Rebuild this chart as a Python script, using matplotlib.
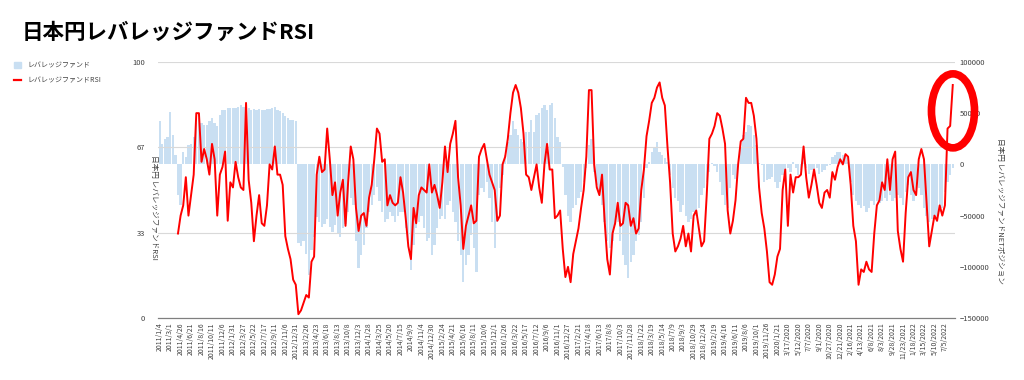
import matplotlib
matplotlib.use("Agg")
import matplotlib.pyplot as plt
import numpy as np
from matplotlib.patches import Patch, Ellipse
from matplotlib.lines import Line2D

plt.rcParams['font.family'] = ['Noto Sans CJK JP', 'DejaVu Sans']

title = '日本円レバレッジファンドRSI'
bar_name = 'レバレッジファンド'
line_name = 'レバレッジファンドRSI'
left_label = '日本円 レバレッジファンドRSI'
right_label = '日本円 レバレッジファンドNETポジション'

# 週次データ（8週ごとに目盛ラベル）
tick_labels = [
    '2011/1/4', '2011/3/1', '2011/4/26', '2011/6/21', '2011/8/16', '2011/10/11', '2011/12/6',
    '2012/1/31', '2012/3/27', '2012/5/22', '2012/7/17', '2012/9/11', '2012/11/6', '2012/12/31',
    '2013/2/26', '2013/4/23', '2013/6/18', '2013/8/13', '2013/10/8', '2013/12/3',
    '2014/1/28', '2014/3/25', '2014/5/20', '2014/7/15', '2014/9/9', '2014/11/4', '2014/12/30',
    '2015/2/24', '2015/4/21', '2015/6/16', '2015/8/11', '2015/10/6', '2015/12/1',
    '2016/1/26', '2016/3/22', '2016/5/17', '2016/7/12', '2016/9/6', '2016/11/1', '2016/12/27',
    '2017/2/21', '2017/4/18', '2017/6/13', '2017/8/8', '2017/10/3', '2017/11/28',
    '2018/1/22', '2018/3/19', '2018/5/14', '2018/7/9', '2018/9/3', '2018/10/29', '2018/12/24',
    '2019/2/19', '2019/4/16', '2019/6/11', '2019/8/6', '2019/10/1', '2019/11/26',
    '2020/1/21', '3/17/2020', '5/12/2020', '7/7/2020', '9/1/2020', '10/27/2020', '12/21/2020',
    '2/16/2021', '4/13/2021', '6/8/2021', '8/3/2021', '9/28/2021', '11/23/2021',
    '1/18/2022', '3/15/2022', '5/10/2022', '7/5/2022',
]

# NETポジション（千枚単位、2週ごと、週0から）
net_k = [
    42, 20, 25, 27, 51, 29, 9, -30,
    -40, 12, 7, 19, 20, 27, 40, 45,
    40, 38, 38, 42, 45, 40, 37, 48,
    53, 53, 55, 55, 55, 55, 56, 58,
    56, 55, 55, 53, 54, 53, 54, 53,
    53, 54, 54, 55, 56, 53, 52, 50,
    47, 45, 43, 43, 42, -77, -80, -75,
    -87, -108, -84, -71, -51, -56, -61, -58,
    -53, -61, -66, -59, -67, -71, -62, -58,
    -46, -33, -40, -75, -101, -88, -79, -62,
    -46, -40, -30, -22, -36, -46, -56, -53,
    -46, -50, -56, -50, -46, -46, -62, -75,
    -103, -79, -62, -56, -50, -62, -75, -72,
    -88, -79, -62, -53, -50, -53, -40, -36,
    -46, -56, -75, -88, -115, -98, -88, -69,
    -82, -105, -30, -23, -27, -17, -33, -56,
    -82, -56, -23, -10, 9, 22, 29, 42,
    35, 29, 25, 22, 32, 32, 43, 32,
    48, 50, 55, 58, 53, 58, 60, 45,
    27, 22, -3, -30, -50, -56, -43, -40,
    -33, -27, -17, -4, 19, 25, -7, -20,
    -27, -40, -56, -75, -82, -75, -59, -56,
    -75, -88, -98, -111, -95, -88, -75, -69,
    -56, -33, -4, 2.5, 12, 16, 22, 12,
    9, 6, 2.5, -10, -23, -33, -36, -46,
    -40, -50, -56, -53, -46, -50, -43, -30,
    -23, -17, -7, 1, -2, -7, -17, -30,
    -40, -43, -23, -10, -14, -1, 16, 29,
    32, 38, 37, 29, 19, 1, -1, -17,
    -15, -14, -12, -17, -23, -17, -10, -7,
    -4, -7, 2.5, -4, -10, -5.5, 6, -4,
    -9, -5.5, -7, -4, -9, -7, -5.5, -2,
    -1, 7.5, 9, 12, 12, 9, 7.5, 2.5,
    -17, -30, -36, -40, -43, -41, -46, -43,
    -36, -40, -36, -38, -36, -33, -36, -30,
    -36, -33, -30, -33, -40, -27, -20, -30,
    -36, -27, -23, -30, -43, -50, -56, -53,
    -50, -56, -46, -43, -27, -17, -10, -4,
]

# RSI（2週ごと、週14から）
rsi = [
    33, 40, 44, 55, 40, 48, 56, 80,
    80, 61, 66, 62, 56, 68, 62, 40,
    56, 59, 65, 38, 53, 51, 61, 55,
    51, 50, 84, 54, 45, 30, 40, 48,
    37, 36, 44, 60, 58, 67, 56, 56,
    52, 32, 27, 23, 15, 13, 1.5, 3,
    6, 9, 8, 22, 24, 56, 63, 57,
    58, 74, 62, 48, 53, 40, 49, 54,
    36, 53, 67, 62, 43, 34, 40, 41,
    36, 47, 52, 62, 74, 72, 61, 62,
    44, 48, 45, 44, 45, 55, 49, 39,
    28, 23, 43, 37, 48, 51, 50, 49,
    60, 49, 52, 48, 43, 53, 67, 57,
    68, 72, 77, 55, 44, 27, 36, 40,
    44, 37, 38, 63, 66, 68, 62, 56,
    53, 50, 38, 40, 60, 63, 70, 80,
    88, 91, 88, 82, 72, 56, 55, 50,
    55, 60, 51, 45, 60, 68, 58, 58,
    39, 40, 42, 27, 16, 20, 14, 25,
    30, 35, 43, 50, 63, 89, 89, 60,
    51, 48, 56, 38, 23, 17, 33, 37,
    45, 36, 37, 45, 44, 36, 39, 33,
    35, 50, 58, 71, 77, 84, 86, 90,
    92, 86, 83, 67, 53, 33, 26, 28,
    31, 36, 28, 33, 26, 40, 42, 35,
    28, 30, 48, 70, 72, 75, 80, 79,
    74, 68, 42, 33, 38, 46, 60, 69,
    70, 86, 84, 84, 79, 70, 51, 41,
    35, 26, 14, 13, 17, 24, 27, 50,
    58, 36, 56, 49, 55, 55, 56, 67,
    55, 47, 52, 58, 52, 45, 43, 49,
    50, 47, 57, 54, 59, 62, 60, 64,
    63, 52, 36, 30, 13, 19, 18, 22,
    19, 18, 33, 44, 46, 53, 50, 62,
    50, 62, 65, 34, 27, 22, 41, 55,
    57, 50, 48, 62, 66, 62, 45, 28,
    34, 40, 38, 44, 40, 44, 74, 75,
    91,
]

bar_color = '#c9dff2'
line_color = '#ff0000'

net = np.array(net_k) * 1000
x_net = np.arange(len(net)) * 2
x_rsi = 14 + np.arange(len(rsi)) * 2

fig = plt.figure(figsize=(10.24, 3.8), dpi=100)
ax = fig.add_axes([0.154, 0.163, 0.779, 0.674])
ax2 = ax.twinx()

ax2.bar(x_net, net, width=1.75, color=bar_color, linewidth=0)
ax2.set_ylim(-150000, 100000)
ax2.set_yticks([100000, 50000, 0, -50000, -100000, -150000])

ax.plot(x_rsi, rsi, color=line_color, linewidth=1.4)
ax.set_ylim(0, 100)
ax.set_yticks([0, 33.33, 66.67, 100])
ax.set_yticklabels(['0', '33', '67', '100'])
ax.set_xlim(-1.5, 608)
ax.set_xticks(np.arange(len(tick_labels)) * 8)
ax.set_xticklabels(tick_labels, rotation=90, fontsize=5)
ax.tick_params(axis='x', length=0, pad=3, colors='#404040')
ax.tick_params(axis='y', length=0, pad=9, labelsize=5.5, colors='#404040')
ax2.tick_params(axis='y', length=0, pad=3, labelsize=5.5, colors='#404040')
ax.yaxis.grid(True, color='#d9d9d9', linewidth=0.8)
ax.set_axisbelow(True)

ax.set_zorder(ax2.get_zorder() + 1)
ax.patch.set_visible(False)

for a in (ax, ax2):
    for s in ('top', 'left', 'right'):
        a.spines[s].set_visible(False)
    a.spines['bottom'].set_color('#7f7f7f')
    a.spines['bottom'].set_linewidth(0.8)

ax.text(-0.005, 0.43, left_label, transform=ax.transAxes, rotation=270,
        ha='center', va='center', fontsize=5.5, color='#404040')
ax.text(1.056, 0.42, right_label, transform=ax.transAxes, rotation=270,
        ha='center', va='center', fontsize=5.5, color='#404040')

ring = Ellipse((0.997, 0.809), 0.054, 0.289, transform=ax.transAxes,
               fill=False, edgecolor='#ff0000', linewidth=5.5, clip_on=False, zorder=10)
ax.add_patch(ring)

fig.text(0.021, 0.915, title, fontsize=15.5, fontweight='bold', va='center', ha='left')

handles = [Patch(color=bar_color, label=bar_name),
           Line2D([0], [0], color=line_color, linewidth=1.6, label=line_name)]
fig.legend(handles=handles, loc='upper left', bbox_to_anchor=(0.008, 0.855),
           frameon=False, fontsize=5, handlelength=1.0, handleheight=0.9,
           labelspacing=1.0, labelcolor='#404040')

fig.savefig('out.png', dpi=100)
